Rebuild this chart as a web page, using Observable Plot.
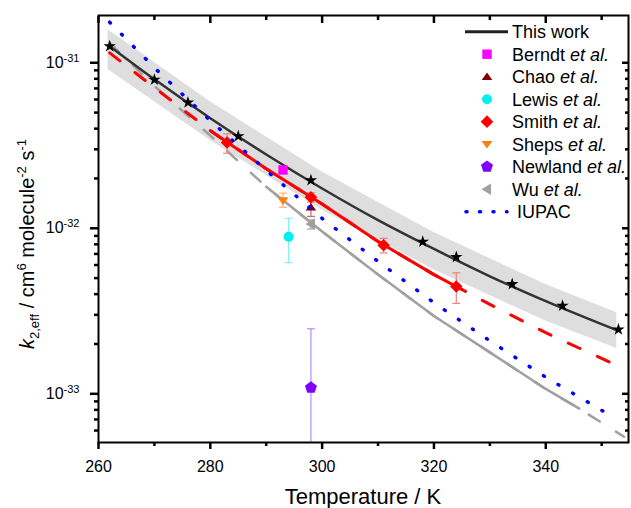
<!DOCTYPE html>
<html><head><meta charset="utf-8">
<script src="https://cdn.jsdelivr.net/npm/d3@7"></script>
<script src="https://cdn.jsdelivr.net/npm/@observablehq/plot@0.6"></script>
<style>
html,body{margin:0;padding:0;background:#fff;}
#chart{width:631px;height:508px;}
svg{font-family:"Liberation Sans",Arial,sans-serif;}
</style></head><body><div id="chart"></div>
<script>
// ---------------- data ----------------
// This work: measured points (stars)
const thisWorkT = [262, 270, 276, 285, 298, 318, 324, 334, 343, 353];
const thisWorkK = [1.26e-31, 7.9e-32, 5.75e-32, 3.6e-32, 1.95e-32, 8.3e-33, 6.7e-33, 4.6e-33, 3.4e-33, 2.45e-33];
// This work: fit curve
const fitT = [262, 270, 280, 290, 300, 310, 320, 330, 340, 353];
const fitK = [1.259e-31, 7.94e-32, 4.62e-32, 2.79e-32, 1.74e-32, 1.12e-32, 7.50e-33, 5.13e-33, 3.63e-33, 2.40e-33];
// This work: uncertainty band
const bandT = [261.7, 280, 300, 320, 340, 352.7];
const bandHi = [1.585e-31, 5.82e-32, 2.19e-32, 9.44e-33, 4.57e-33, 3.09e-33];
const bandLo = [9.12e-32, 3.39e-32, 1.29e-32, 5.62e-33, 2.75e-33, 1.88e-33];
// Smith et al. fit line (solid 280-325, dashed elsewhere)
const smithLineT = [262, 270, 280, 290, 300, 310, 320, 325, 330, 340, 351.5];
const smithLineK = [1.148e-31, 7.08e-32, 3.89e-32, 2.29e-32, 1.40e-32, 8.32e-33, 5.25e-33, 4.27e-33, 3.47e-33, 2.34e-33, 1.55e-33];
const smithSolidRange = [280, 325];
// Wu et al. line (solid 290-346, dashed elsewhere)
const wuLineT = [262, 270, 280, 290, 300, 310, 320, 330, 340, 346, 354];
const wuLineK = [1.318e-31, 7.24e-32, 3.63e-32, 1.78e-32, 9.55e-33, 5.25e-33, 2.95e-33, 1.78e-33, 1.07e-33, 8.13e-34, 5.50e-34];
const wuSolidRange = [290, 346];
// IUPAC recommendation
const iupacT = [262, 270, 280, 290, 300, 310, 320, 330, 340, 351];
const iupacK = [1.758e-31, 9.33e-32, 4.47e-32, 2.24e-32, 1.148e-32, 6.31e-33, 3.55e-33, 2.09e-33, 1.26e-33, 7.59e-34];
// Literature points
const berndtT = [293], berndtK = [2.25e-32];
const chaoT = [298], chaoK = [1.34e-32], chaoLo = [1.18e-32], chaoHi = [1.50e-32];
const lewisT = [294], lewisK = [8.9e-33], lewisLo = [6.2e-33], lewisHi = [1.15e-32];
const smithT = [283, 298, 311, 324];
const smithK = [3.3e-32, 1.54e-32, 7.9e-33, 4.45e-33];
const smithLo = [2.84e-32, 1.44e-32, 7.1e-33, 3.52e-33];
const smithHi = [3.72e-32, 1.64e-32, 8.7e-33, 5.38e-33];
const shepsT = [293], shepsK = [1.47e-32], shepsLo = [1.34e-32], shepsHi = [1.63e-32];
const newlandT = [298], newlandK = [1.09e-33], newlandLo = [5.1e-34], newlandHi = [2.47e-33];
const wuT = [298], wuK = [1.06e-32], wuLo = [0.99e-32], wuHi = [1.12e-32];
// axes
const xDomain = [260, 354.8];
const yDomain = [5.08e-34, 1.93e-31];
const xTicksMajor = [260, 280, 300, 320, 340];
const xTicksMinor = [270, 290, 310, 330, 350];
const yTicksMajor = [1e-33, 1e-32, 1e-31];
const yTicksMinor = [6e-34, 7e-34, 8e-34, 9e-34, 2e-33, 3e-33, 4e-33, 5e-33, 6e-33, 7e-33, 8e-33, 9e-33,
  2e-32, 3e-32, 4e-32, 5e-32, 6e-32, 7e-32, 8e-32, 9e-32];
const legendNames = ["This work", "Berndt", "Chao", "Lewis", "Smith", "Sheps", "Newland", "Wu", "IUPAC"];

// ---------------- symbols ----------------
const R = s => Math.sqrt(s / Math.PI);
const symTriUp = {draw(c, s) { const r = R(s); c.moveTo(0, -0.8 * r); c.lineTo(r, 0.6 * r); c.lineTo(-r, 0.6 * r); c.closePath(); }};
const symTriDown = {draw(c, s) { const r = R(s); c.moveTo(0, 0.8 * r); c.lineTo(r, -0.6 * r); c.lineTo(-r, -0.6 * r); c.closePath(); }};
const symTriLeft = {draw(c, s) { const r = R(s); c.moveTo(-0.95 * r, 0); c.lineTo(0.7 * r, -r); c.lineTo(0.7 * r, r); c.closePath(); }};
const symPent = {draw(c, s) { const r = R(s); for (let i = 0; i < 5; i++) { const a = -Math.PI / 2 + i * 2 * Math.PI / 5; const x = r * Math.cos(a), y = r * Math.sin(a); i ? c.lineTo(x, y) : c.moveTo(x, y); } c.closePath(); }};
const symCap = {draw(c, s) { const r = R(s); c.moveTo(-r, 0); c.lineTo(r, 0); }};

const series = [
  {name: "Berndt", T: berndtT, K: berndtK, sym: d3.symbolSquare, r: 5.3, color: "#ff00ff"},
  {name: "Chao", T: chaoT, K: chaoK, lo: chaoLo, hi: chaoHi, sym: symTriUp, r: 5.3, color: "#800000", ecolor: "#c07070"},
  {name: "Lewis", T: lewisT, K: lewisK, lo: lewisLo, hi: lewisHi, sym: d3.symbolCircle, r: 5, color: "#00f0f0", ecolor: "#80f4f4"},
  {name: "Smith", T: smithT, K: smithK, lo: smithLo, hi: smithHi, sym: d3.symbolDiamond2, r: 5.7, color: "#ff0000", ecolor: "#f08080"},
  {name: "Sheps", T: shepsT, K: shepsK, lo: shepsLo, hi: shepsHi, sym: symTriDown, r: 5.5, color: "#ff7f0e", ecolor: "#ffb070"},
  {name: "Newland", T: newlandT, K: newlandK, lo: newlandLo, hi: newlandHi, sym: symPent, r: 6.3, color: "#7f00ff", ecolor: "#b88cff", noLowCap: true},
  {name: "Wu", T: wuT, K: wuK, lo: wuLo, hi: wuHi, sym: symTriLeft, r: 5.8, color: "#a0a0a0", ecolor: "#a0a0a0"}
];

const rows = (T, K) => T.map((t, i) => ({T: t, k: K[i]}));
const fitData = rows(fitT, fitK);
const bandData = bandT.map((t, i) => ({T: t, lo: bandLo[i], hi: bandHi[i]}));
const smithLine = rows(smithLineT, smithLineK);
const wuLine = rows(wuLineT, wuLineK);
const iupac = rows(iupacT, iupacK);
const stars = rows(thisWorkT, thisWorkK);

const errMarks = [], dotMarks = [];
for (const s of series) {
  const d = s.T.map((t, i) => ({T: t, k: s.K[i], lo: s.lo ? s.lo[i] : null, hi: s.hi ? s.hi[i] : null}));
  if (s.lo) {
    errMarks.push(Plot.ruleX(d, {x: "T", y1: "lo", y2: "hi", stroke: s.ecolor, strokeWidth: 1.2}));
    if (!s.noLowCap) errMarks.push(Plot.dot(d, {x: "T", y: "lo", symbol: symCap, r: 4, stroke: s.ecolor, strokeWidth: 1.2, fill: "none"}));
    errMarks.push(Plot.dot(d, {x: "T", y: "hi", symbol: symCap, r: 4, stroke: s.ecolor, strokeWidth: 1.2, fill: "none"}));
  }
  dotMarks.push(Plot.dot(d, {x: "T", y: "k", symbol: s.sym, r: s.r, fill: s.color, stroke: "none"}));
}

const fmtY = d => "10|" + Math.round(Math.log10(d));
const inRange = (r) => d => d.T >= r[0] && d.T <= r[1];
const TK = "#000000";

const plot = Plot.plot({
  width: 631, height: 508,
  marginLeft: 98, marginRight: 3, marginTop: 15, marginBottom: 66,
  style: {fontFamily: '"Liberation Sans", Arial, sans-serif'},
  x: {domain: xDomain},
  y: {type: "log", domain: yDomain},
  marks: [
    Plot.areaY(bandData, {x: "T", y1: "lo", y2: "hi", fill: "#dedede"}),
    Plot.line(wuLine, {x: "T", y: "k", stroke: "#a0a0a0", strokeWidth: 2.5, strokeDasharray: "13,19"}),
    Plot.line(wuLine.filter(inRange(wuSolidRange)), {x: "T", y: "k", stroke: "#a0a0a0", strokeWidth: 2.5}),
    Plot.line(smithLine, {x: "T", y: "k", stroke: "#ff0000", strokeWidth: 3, strokeDasharray: "13,19"}),
    Plot.line(smithLine.filter(inRange(smithSolidRange)), {x: "T", y: "k", stroke: "#ff0000", strokeWidth: 3}),
    Plot.line(fitData, {x: "T", y: "k", stroke: "#333333", strokeWidth: 2.5, curve: "monotone-x"}),
    ...errMarks,
    ...dotMarks,
    Plot.dot(stars, {x: "T", y: "k", symbol: d3.symbolStar, r: 3.9, fill: "black", stroke: "none"}),
    Plot.line(iupac, {x: "T", y: "k", stroke: "#0000ff", strokeWidth: 3.5, strokeDasharray: "1,16", strokeLinecap: "round"}),
    Plot.frame({stroke: "black", strokeWidth: 2}),
    // ticks: left/bottom outward with labels, top/right inward
    Plot.axisX(xTicksMajor, {anchor: "bottom", tickSize: 7, tickPadding: 11, stroke: TK, strokeWidth: 2.5, fontSize: 16, label: null, tickFormat: d => String(d)}),
    Plot.axisX(xTicksMinor, {anchor: "bottom", tickSize: 4, stroke: TK, strokeWidth: 2.5, fill: "none", label: null}),
    Plot.axisX(xTicksMajor, {anchor: "top", tickSize: 7, dy: 7, stroke: TK, strokeWidth: 2.5, fill: "none", label: null}),
    Plot.axisX(xTicksMinor, {anchor: "top", tickSize: 4, dy: 4, stroke: TK, strokeWidth: 2.5, fill: "none", label: null}),
    Plot.axisY(yTicksMajor, {anchor: "left", tickSize: 8, tickPadding: 11, stroke: TK, strokeWidth: 2.5, fontSize: 16, label: null, tickFormat: fmtY}),
    Plot.axisY(yTicksMinor, {anchor: "left", tickSize: 4, stroke: TK, strokeWidth: 2.5, fill: "none", label: null}),
    Plot.axisY(yTicksMajor, {anchor: "right", tickSize: 7, dx: -7, stroke: TK, strokeWidth: 2.5, fill: "none", label: null}),
    Plot.axisY(yTicksMinor, {anchor: "right", tickSize: 4, dx: -4, stroke: TK, strokeWidth: 2.5, fill: "none", label: null})
  ]
});

document.getElementById("chart").appendChild(plot);
const svg = plot;
const NS = "http://www.w3.org/2000/svg";

// superscript y tick labels
svg.querySelectorAll("text").forEach(t => {
  const s = t.textContent;
  if (s.startsWith("10|")) {
    const e = s.split("|")[1];
    t.textContent = "";
    const a = document.createElementNS(NS, "tspan"); a.textContent = "10";
    const b = document.createElementNS(NS, "tspan"); b.textContent = e;
    b.setAttribute("dy", "-6"); b.setAttribute("font-size", "11");
    t.appendChild(a); t.appendChild(b);
  }
});

const root = d3.select(svg);
// x label
root.append("text").attr("x", 363).attr("y", 504).attr("text-anchor", "middle")
  .attr("font-size", 22).attr("fill", "black").text("Temperature / K");
// y label
const yl = root.append("text").attr("transform", "translate(34,244) rotate(-90)")
  .attr("text-anchor", "middle").attr("font-size", 20).attr("fill", "black");
yl.append("tspan").attr("font-style", "italic").text("k");
yl.append("tspan").attr("font-size", 13).attr("dy", 5).text("2,eff");
yl.append("tspan").attr("dy", -5).text(" / cm");
yl.append("tspan").attr("font-size", 13).attr("dy", -8).text("6");
yl.append("tspan").attr("dy", 8).text(" molecule");
yl.append("tspan").attr("font-size", 13).attr("dy", -8).text("-2");
yl.append("tspan").attr("dy", 8).text(" s");
yl.append("tspan").attr("font-size", 13).attr("dy", -8).text("-1");

// legend
const lg = root.append("g").attr("font-size", 18).attr("fill", "black").attr("text-anchor", "start");
const rowY = i => 31.7 + i * 22.5;
legendNames.forEach((name, i) => {
  const y = rowY(i);
  const s = series.find(d => d.name === name);
  if (name === "This work") {
    lg.append("line").attr("x1", 465).attr("x2", 508).attr("y1", y).attr("y2", y).attr("stroke", "#222").attr("stroke-width", 3);
  } else if (name === "IUPAC") {
    lg.append("line").attr("x1", 466).attr("x2", 507).attr("y1", y).attr("y2", y).attr("stroke", "#0000ff")
      .attr("stroke-width", 3.5).attr("stroke-dasharray", "1,12.5").attr("stroke-linecap", "round");
  } else if (s) {
    lg.append("path").attr("transform", `translate(487,${y})`)
      .attr("d", d3.symbol(s.sym, Math.PI * s.r * s.r)()).attr("fill", s.color);
  }
  const tx = lg.append("text").attr("x", name === "IUPAC" ? 517 : 512).attr("y", y).attr("dy", "0.36em").attr("text-anchor", "start");
  if (name === "This work" || name === "IUPAC") tx.text(name);
  else { tx.append("tspan").text(name + " "); tx.append("tspan").attr("font-style", "italic").text("et al."); }
});
</script>
</body></html>
